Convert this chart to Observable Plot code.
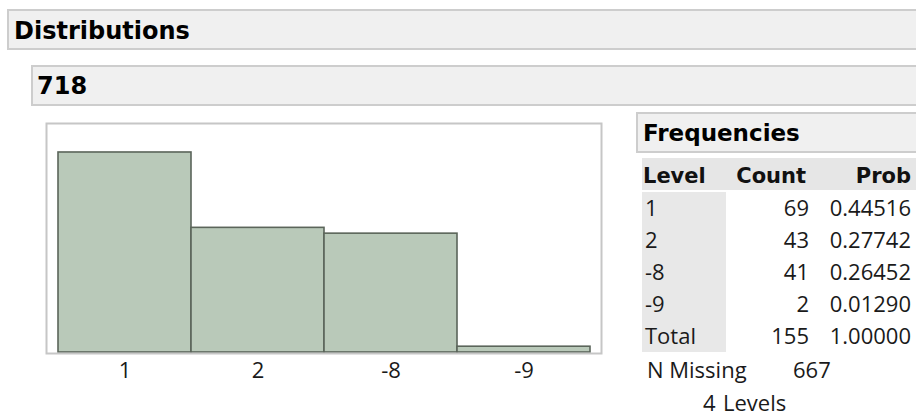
<!DOCTYPE html>
<html>
<head>
<meta charset="utf-8">
<script src="https://cdn.jsdelivr.net/npm/d3@7"></script>
<script src="https://cdn.jsdelivr.net/npm/@observablehq/plot@0.6"></script>
<style>
  html, body { margin: 0; padding: 0; background: #ffffff; }
  #page { position: relative; width: 916px; height: 416px; overflow: hidden; background: #fff; }
  #chart { position: absolute; left: 0; top: 110px; }
  #overlay { position: absolute; left: 0; top: 0; }
</style>
</head>
<body>
<div id="page">
  <svg id="overlay" width="916" height="416"></svg>
  <div id="chart"></div>
</div>
<script>
// ---- data ----
const levels = ["1", "2", "-8", "-9"];
const counts = [69, 43, 41, 2];
const probs = ["0.44516", "0.27742", "0.26452", "0.01290"];
const totalLabel = "Total";
const totalCount = 155;
const totalProb = "1.00000";
const nMissing = 667;
const nLevels = 4;
const reportTitle = "Distributions";
const variableName = "718";
const tableTitle = "Frequencies";
const columnHeaders = ["Level", "Count", "Prob"];

const data = levels.map((l, i) => ({level: l, count: counts[i]}));

// ---- chart ----
const chart = Plot.plot({
  width: 620,
  height: 300,
  marginLeft: 46,
  marginRight: 19,
  marginTop: 13,
  marginBottom: 57,
  style: {fontFamily: "'Open Sans', sans-serif", fontSize: "22px", color: "#1a1a1a", background: "transparent"},
  x: {domain: levels, padding: 0, insetLeft: 11, insetRight: 10, label: null, tickSize: 0, tickPadding: 9},
  y: {domain: [0, 79], insetBottom: 1, axis: null},
  marks: [
    Plot.barY(data, {x: "level", y: "count", fill: "#b9c9b9", stroke: "#5b655a", strokeWidth: 1.6}),
    Plot.frame({stroke: "#c6c6c6", strokeWidth: 2})
  ]
});
document.getElementById("chart").appendChild(chart);

// ---- report headers and frequency table ----
const svg = d3.select("#overlay");
const boldFont = "'DejaVu Sans', sans-serif";
const bodyFont = "'Open Sans', sans-serif";

function box(x, y, w, h) {
  svg.append("rect").attr("x", x).attr("y", y).attr("width", w).attr("height", h)
    .attr("fill", "#f0f0f0").attr("stroke", "#cdcdcd").attr("stroke-width", 2);
}
function text(x, y, s, opts = {}) {
  svg.append("text").attr("x", x).attr("y", y)
    .attr("font-family", opts.bold ? boldFont : bodyFont)
    .attr("font-weight", opts.bold ? "bold" : "normal")
    .attr("font-size", opts.size || 22)
    .attr("fill", opts.fill || "#1a1a1a")
    .attr("text-anchor", opts.anchor || "start")
    .text(s);
}

box(8, 10, 920, 39);
text(14, 39, reportTitle, {bold: true, size: 24, fill: "#000"});
box(32, 66, 900, 39);
text(37, 94, variableName, {bold: true, size: 24, fill: "#000"});

box(637, 113, 300, 39);
text(643, 141, tableTitle, {bold: true, size: 23, fill: "#000"});

// header row
svg.append("rect").attr("x", 642).attr("y", 158).attr("width", 290).attr("height", 32).attr("fill", "#e6e6e6");
text(643, 183, columnHeaders[0], {bold: true, size: 21, fill: "#111"});
text(806, 183, columnHeaders[1], {bold: true, size: 21, fill: "#111", anchor: "end"});
text(911, 183, columnHeaders[2], {bold: true, size: 21, fill: "#111", anchor: "end"});

// level column background
svg.append("rect").attr("x", 642).attr("y", 192).attr("width", 84).attr("height", 160).attr("fill", "#e8e8e8");

const rows = levels.map((l, i) => [l, counts[i], probs[i]]).concat([[totalLabel, totalCount, totalProb]]);
rows.forEach((r, i) => {
  const yb = 216 + i * 32;
  text(645, yb, r[0]);
  text(809, yb, String(r[1]), {anchor: "end"});
  text(911, yb, r[2], {anchor: "end"});
});

text(647, 378, "N Missing");
text(793, 378, String(nMissing));
text(703, 411, String(nLevels));
text(723, 411, "Levels");
</script>
</body>
</html>
